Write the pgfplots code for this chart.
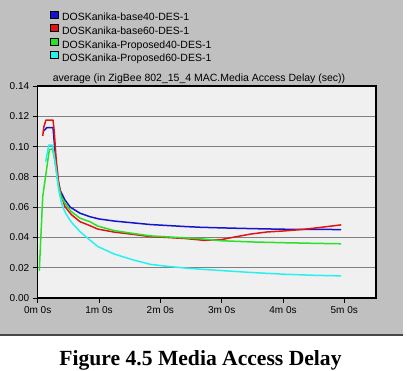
\documentclass[border=0pt]{standalone}
\usepackage{fontspec}
\setmainfont{Liberation Sans}
\newfontfamily\serifcap{Liberation Serif}
\usepackage{pgfplots}
\pgfplotsset{compat=1.18}
\definecolor{panel}{RGB}{192,192,192}
\definecolor{plotbg}{RGB}{240,240,240}
\definecolor{cblue}{RGB}{20,20,205}
\definecolor{cred}{RGB}{225,20,20}
\definecolor{cgreen}{RGB}{40,225,40}
\definecolor{ccyan}{RGB}{40,240,240}
\definecolor{gridc}{RGB}{128,128,128}
\begin{document}
\begin{tikzpicture}
\fill[white] (0pt,0pt) rectangle (407pt,370pt);
\fill[panel] (0pt,36pt) rectangle (402.5pt,370pt);
\fill[black!72] (0pt,34pt) rectangle (402.5pt,36.3pt);
\begin{axis}[
  at={(37.7pt,72pt)}, anchor=south west, scale only axis,
  width=338.3pt, height=212pt,
  xmin=0, xmax=5.517, ymin=0, ymax=0.14,
  xtick={0,1,2,3,4,5},
  xticklabels={0m 0s,1m 0s,2m 0s,3m 0s,4m 0s,5m 0s},
  ytick={0,0.02,0.04,0.06,0.08,0.10,0.12,0.14},
  scaled y ticks=false,
  yticklabel style={/pgf/number format/fixed,/pgf/number format/fixed zerofill,/pgf/number format/precision=2},
  /pgf/number format/assume math mode=true,
  tick label style={font=\fontsize{10}{12}\selectfont},
  xtick pos=lower, ytick pos=left,
  tick align=outside, major tick length=5pt,
  tick style={black, line width=0.8pt},
  ymajorgrids, grid style={gridc, line width=0.8pt},
  axis line style={black, line width=1.3pt},
  axis background/.style={fill=plotbg},
  every axis plot/.append style={line width=1.5pt, line join=round},
  legend style={at={(rel axis cs:0.0364,1.355)}, anchor=north west, draw=none, fill=none,
    inner sep=0pt, outer sep=0pt, row sep=1.8pt, column sep=4pt,
    font=\fontsize{10.5}{12}\selectfont,
    nodes={inner sep=0pt, text height=7.5pt, text depth=1.5pt}},
  legend cell align=left,
  legend image code/.code={\filldraw[#1, draw=black, line width=0.5pt] (0pt,0pt) rectangle (7.5pt,7pt);},
]
\addplot[cblue] coordinates {(0.09,0.110) (0.15,0.1125) (0.25,0.1125) (0.28,0.098) (0.32,0.080) (0.364,0.0713) (0.44,0.065) (0.53,0.060) (0.69,0.056) (0.85,0.0537) (1.0,0.0522) (1.25,0.0508) (1.56,0.0496) (1.84,0.0485) (2.1,0.0479) (2.4,0.0472) (2.66,0.0467) (3.0,0.0463) (3.5,0.0458) (4.02,0.0454) (4.5,0.0453) (4.95,0.0452)};
\addlegendentry{DOSKanika-base40-DES-1}
\addplot[cred] coordinates {(0.082,0.107) (0.10,0.113) (0.135,0.1175) (0.25,0.1175) (0.27,0.110) (0.30,0.092) (0.34,0.077) (0.38,0.068) (0.445,0.0603) (0.55,0.055) (0.69,0.0504) (0.85,0.0478) (0.98,0.0455) (1.25,0.0435) (1.56,0.042) (1.84,0.0405) (2.1,0.040) (2.4,0.0393) (2.71,0.0381) (3.0,0.0386) (3.19,0.0401) (3.47,0.0422) (3.74,0.0436) (4.02,0.0443) (4.33,0.0453) (4.65,0.0468) (4.95,0.0483)};
\addlegendentry{DOSKanika-base60-DES-1}
\addplot[cgreen] coordinates {(0.026,0.018) (0.082,0.067) (0.19,0.098) (0.24,0.0985) (0.27,0.093) (0.30,0.085) (0.34,0.074) (0.38,0.067) (0.445,0.0625) (0.55,0.057) (0.69,0.0527) (0.85,0.0504) (0.98,0.0475) (1.25,0.0445) (1.56,0.0426) (1.84,0.041) (2.1,0.0404) (2.4,0.0397) (2.66,0.0391) (3.0,0.0378) (3.5,0.037) (4.02,0.0365) (4.5,0.0361) (4.95,0.0358)};
\addlegendentry{DOSKanika-Proposed40-DES-1}
\addplot[ccyan] coordinates {(0.13,0.090) (0.18,0.101) (0.24,0.101) (0.27,0.094) (0.30,0.085) (0.34,0.072) (0.38,0.064) (0.42,0.059) (0.47,0.055) (0.55,0.050) (0.69,0.0438) (0.85,0.0383) (0.98,0.034) (1.25,0.029) (1.56,0.0251) (1.84,0.0222) (2.1,0.021) (2.4,0.0198) (2.66,0.019) (3.0,0.0181) (3.5,0.0168) (4.02,0.0157) (4.5,0.0150) (4.95,0.0146)};
\addlegendentry{DOSKanika-Proposed60-DES-1}
\end{axis}
\node[anchor=base west, font=\fontsize{10.5}{12}\selectfont, inner sep=0pt] at (52.7pt,288.3pt) {average (in ZigBee 802\_15\_4 MAC.Media Access Delay (sec))};
\node[anchor=base, font=\serifcap\bfseries\fontsize{21.6}{24}\selectfont, inner sep=0pt] at (200.5pt,4.3pt) {Figure 4.5 Media Access Delay};
\end{tikzpicture}
\end{document}
